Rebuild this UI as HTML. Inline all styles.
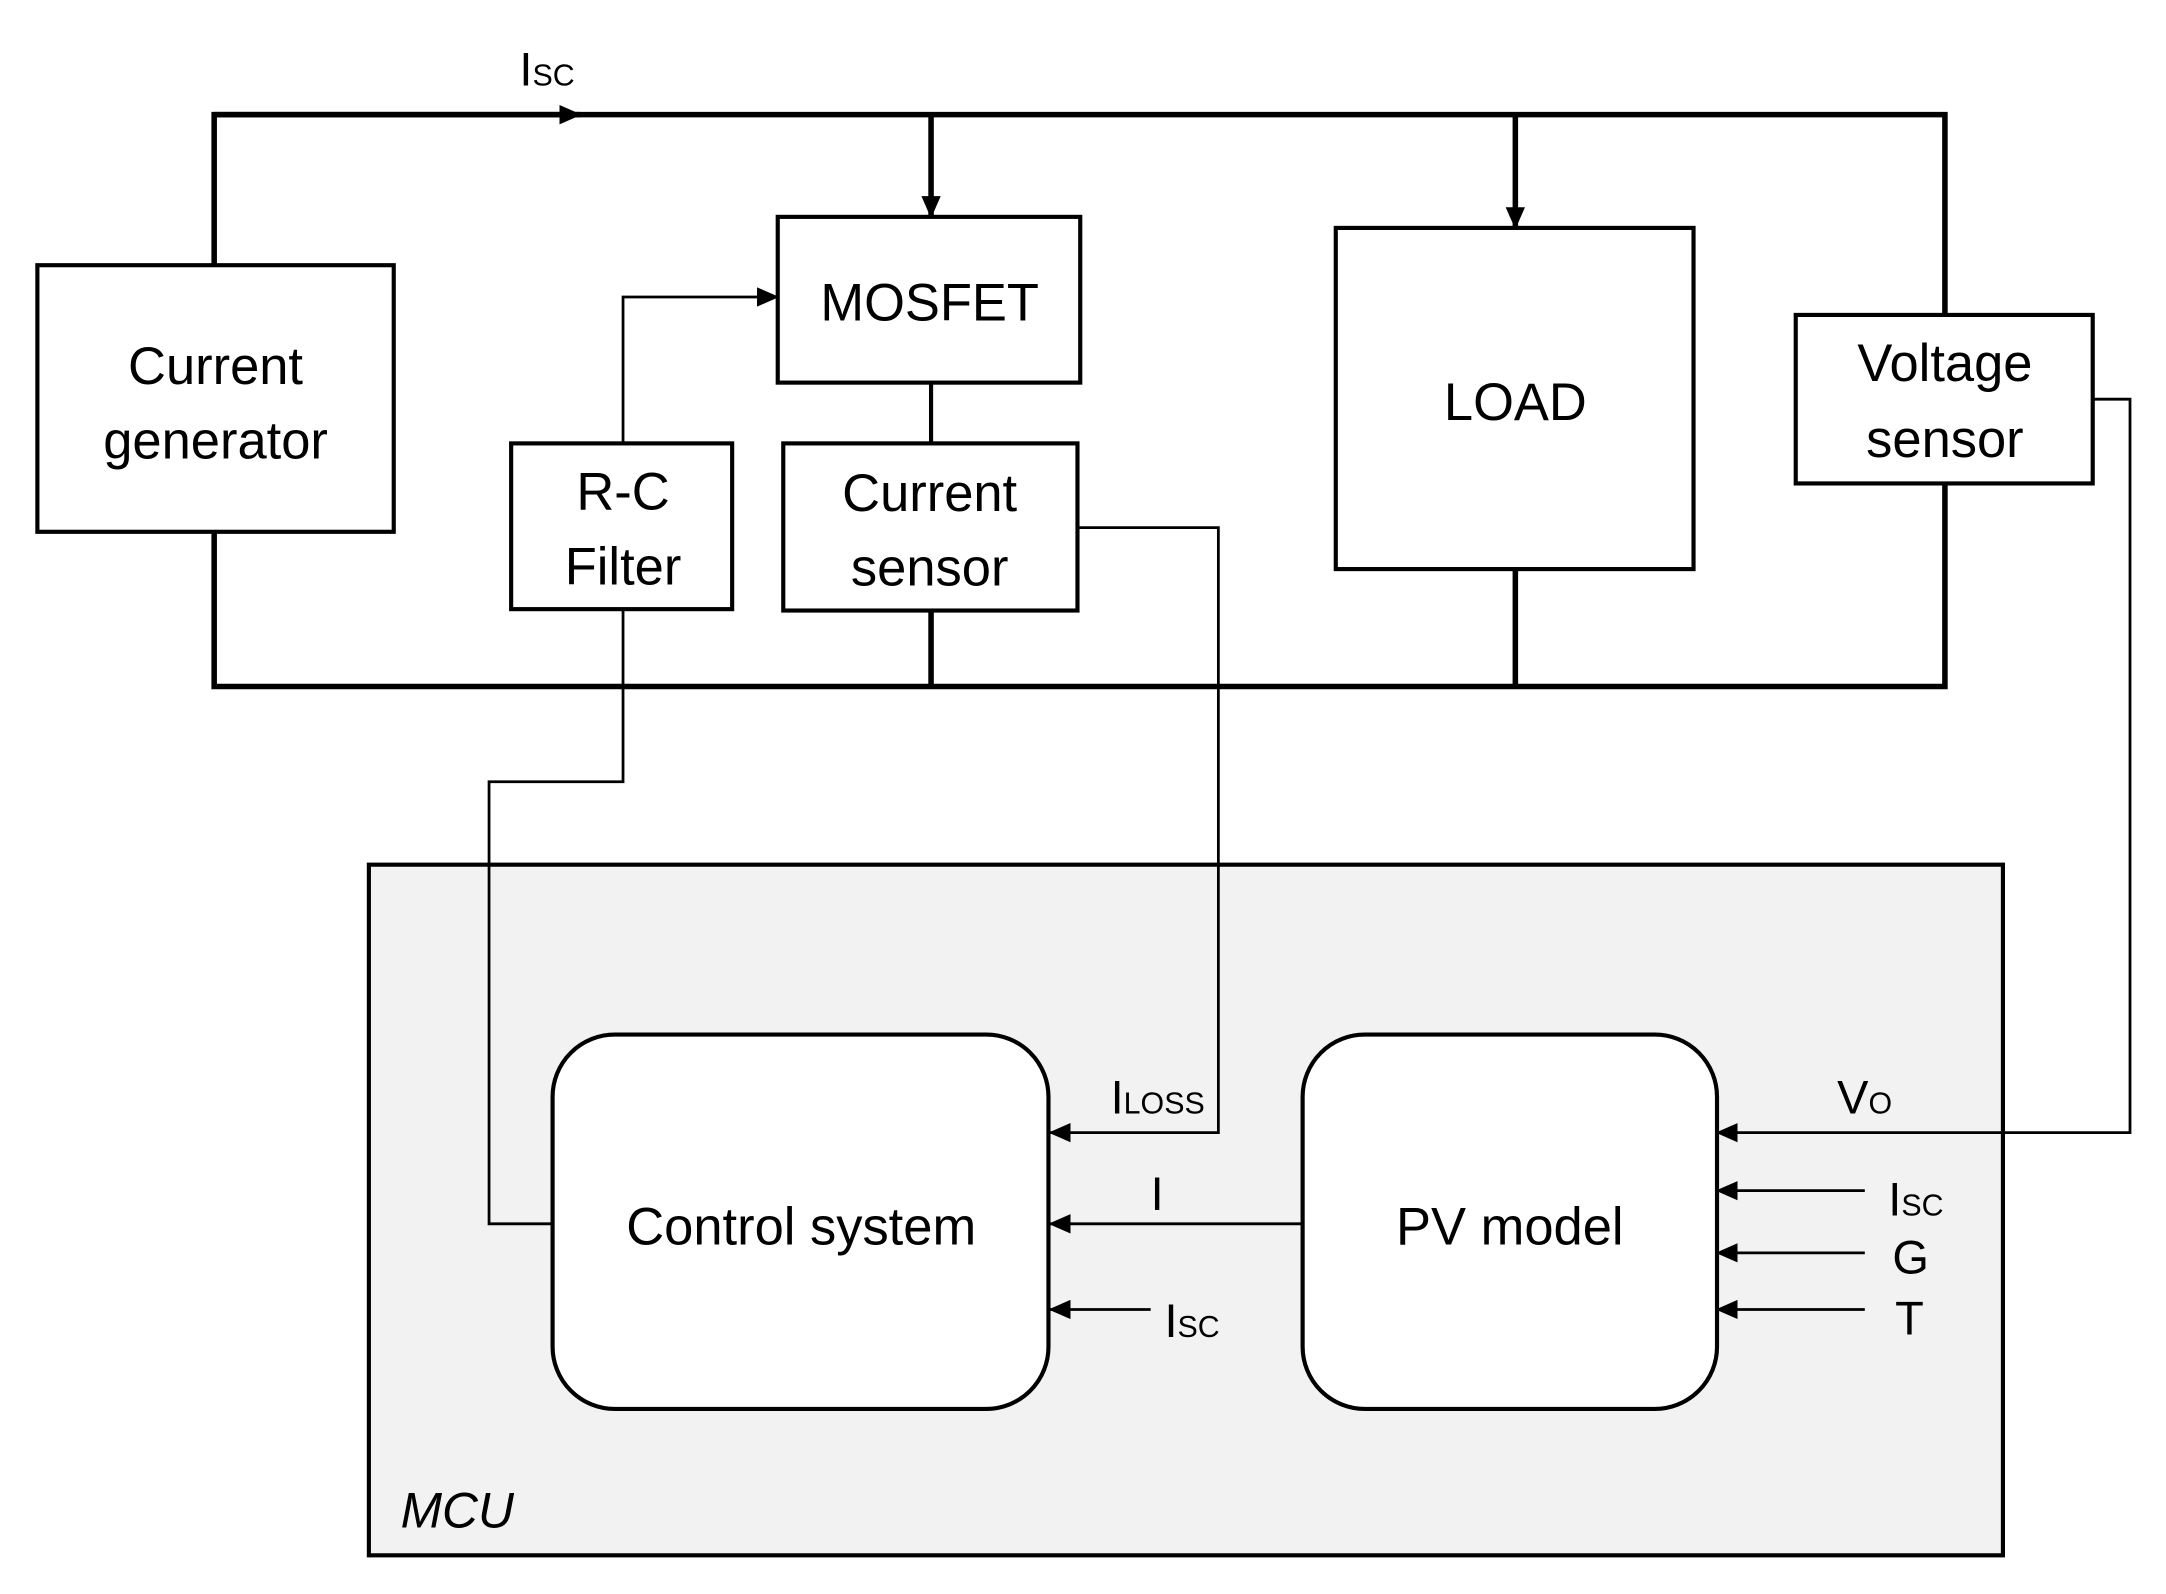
<!DOCTYPE html>
<html><head><meta charset="utf-8"><style>
html,body{margin:0;padding:0;background:#fff}
svg{display:block}
text{font-family:"Liberation Sans",sans-serif;fill:#000}
</style></head><body>
<svg width="2166" height="1594" viewBox="0 0 1568 1154" xmlns="http://www.w3.org/2000/svg">
<defs>
<marker id="b" markerWidth="16" markerHeight="14" refX="15" refY="7" orient="auto" markerUnits="userSpaceOnUse" viewBox="0 0 16 14">
<path d="M0,0 L16,7 L0,14 z" fill="#000"/></marker>
</defs>
<rect x="267" y="626" width="1183" height="500" fill="#f2f2f2" stroke="#000" stroke-width="3"/>
<g fill="none" stroke="#000" stroke-width="4">
<polyline points="155,192 155,83 1408,83 1408,228"/>
<polyline points="155,385 155,497 1408,497 1408,350"/>
<line x1="674" y1="83" x2="674" y2="157" marker-end="url(#b)"/>
<line x1="1097" y1="83" x2="1097" y2="165" marker-end="url(#b)"/>
<line x1="1097" y1="412" x2="1097" y2="497"/>
<line x1="674" y1="442" x2="674" y2="497"/>
<line x1="674" y1="277" x2="674" y2="321" stroke-width="3"/>
<line x1="155" y1="83" x2="420" y2="83" marker-end="url(#b)"/>
</g>
<g fill="none" stroke="#000" stroke-width="2">
<polyline points="451,321 451,215 563,215" marker-end="url(#b)"/>
<polyline points="451,441 451,566 354,566 354,886 400,886"/>
<polyline points="780,382 882,382 882,820 760,820" marker-end="url(#b)"/>
<polyline points="1515,289 1542,289 1542,820 1243,820" marker-end="url(#b)"/>
<line x1="943" y1="886" x2="760" y2="886" marker-end="url(#b)"/>
<line x1="833" y1="948" x2="760" y2="948" marker-end="url(#b)"/>
<line x1="1350" y1="862" x2="1243" y2="862" marker-end="url(#b)"/>
<line x1="1350" y1="907" x2="1243" y2="907" marker-end="url(#b)"/>
<line x1="1350" y1="948" x2="1243" y2="948" marker-end="url(#b)"/>
</g>
<g fill="#fff" stroke="#000" stroke-width="3">
<rect x="27" y="192" width="258" height="193"/>
<rect x="563" y="157" width="219" height="120"/>
<rect x="567" y="321" width="213" height="121"/>
<rect x="370" y="321" width="160" height="120"/>
<rect x="967" y="165" width="259" height="247"/>
<rect x="1300" y="228" width="215" height="122"/>
<rect x="400" y="749" width="359" height="271" rx="45"/>
<rect x="943" y="749" width="300" height="271" rx="45"/>
</g>
<g font-size="38" text-anchor="middle">
<text x="156" y="278">Current</text>
<text x="156" y="332">generator</text>
<text x="673" y="232">MOSFET</text>
<text x="673" y="370">Current</text>
<text x="673" y="424">sensor</text>
<text x="451" y="369">R-C</text>
<text x="451" y="423">Filter</text>
<text x="1097" y="304">LOAD</text>
<text x="1408" y="276">Voltage</text>
<text x="1408" y="331">sensor</text>
<text x="580" y="901">Control system</text>
<text x="1093" y="901">PV model</text>
</g>
<g font-size="34">
<text x="376" y="62">I<tspan font-size="22">SC</tspan></text>
<text x="804" y="806">I<tspan font-size="22">LOSS</tspan></text>
<text x="833" y="876">I</text>
<text x="843" y="968">I<tspan font-size="22">SC</tspan></text>
<text x="1330" y="806">V<tspan font-size="22">O</tspan></text>
<text x="1367" y="880">I<tspan font-size="22">SC</tspan></text>
<text x="1370" y="922">G</text>
<text x="1372" y="966">T</text>
<text x="290" y="1106" font-style="italic" font-size="36">MCU</text>
</g>
</svg>
</body></html>
